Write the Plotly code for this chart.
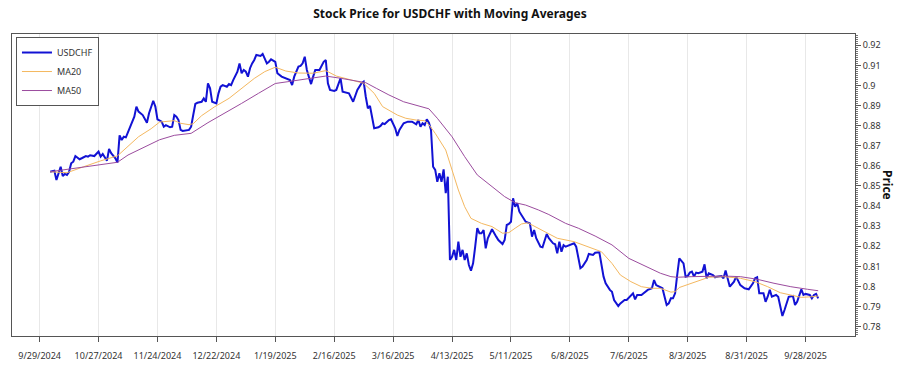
import pandas as pd
import plotly.graph_objects as go

START = "2024-09-29"

# USDCHF close: days since START, price
usd_days = [5, 7, 8, 9, 10, 11, 12, 13, 14, 15, 16, 17, 19, 20, 22, 23, 24, 26, 27, 28, 29, 30, 32, 33, 34, 36, 37,
            38, 39, 40, 41, 42, 43, 45, 46, 47, 49, 50, 51, 52, 54, 55, 56, 58, 59, 60, 62, 63, 64, 65, 66, 67, 68,
            71, 72, 73, 74, 75, 77, 78, 79, 80, 81, 82, 83, 84, 85, 86, 87, 89, 90, 91, 92, 93, 94, 95, 96, 97, 98,
            99, 100, 101, 102, 103, 105, 106, 107, 108, 109, 110, 112, 113, 115, 117, 119, 120, 121, 123, 124, 125,
            126, 127, 128, 129, 130, 131, 133, 134, 135, 136, 137, 138, 140, 141, 142, 143, 144, 146, 147, 149, 150,
            151, 153, 154, 155, 156, 157, 158, 159, 161, 162, 163, 164, 166, 167, 169, 170, 171, 173, 175, 177, 179,
            180, 181, 182, 183, 184, 185, 186, 187, 188, 189, 190, 191, 192, 193, 194, 195, 196, 197, 198, 199, 200,
            201, 202, 203, 204, 205, 206, 207, 208, 209, 210, 211, 212, 213, 214, 215, 217, 218, 220, 221, 222, 223,
            224, 225, 226, 227, 228, 229, 230, 231, 233, 234, 235, 236, 238, 239, 241, 242, 244, 245, 246, 247, 248,
            249, 250, 252, 254, 255, 257, 258, 260, 261, 263, 264, 266, 268, 269, 271, 272, 273, 275, 276, 278, 279,
            281, 282, 283, 284, 286, 287, 289, 291, 292, 293, 295, 296, 297, 298, 299, 300, 301, 302, 303, 304, 306,
            307, 308, 309, 310, 311, 312, 313, 315, 316, 317, 318, 320, 321, 322, 324, 325, 326, 328, 329, 330, 331,
            332, 333, 335, 337, 339, 340, 341, 342, 344, 345, 346, 347, 348, 350, 351, 353, 354, 355, 356, 358, 359,
            360, 362, 363, 364, 366, 367, 368, 369, 370]
usd_vals = [0.8571, 0.8576, 0.8530, 0.8560, 0.8596, 0.8550, 0.8560, 0.8555, 0.8571, 0.8613, 0.8621, 0.8649, 0.8633,
            0.8638, 0.8649, 0.8646, 0.8653, 0.8649, 0.8663, 0.8671, 0.8646, 0.8659, 0.8626, 0.8684, 0.8663, 0.8638,
            0.8616, 0.8752, 0.8729, 0.8745, 0.8742, 0.8770, 0.8799, 0.8845, 0.8895, 0.8870, 0.8853, 0.8837, 0.8815,
            0.8862, 0.8924, 0.8895, 0.8832, 0.8820, 0.8795, 0.8803, 0.8792, 0.8795, 0.8853, 0.8845, 0.8828, 0.8779,
            0.8774, 0.8779, 0.8795, 0.8853, 0.8908, 0.8914, 0.8919, 0.8936, 0.8919, 0.9011, 0.8986, 0.8919, 0.8914,
            0.8911, 0.8961, 0.8994, 0.9002, 0.8994, 0.9007, 0.9002, 0.9027, 0.9047, 0.9069, 0.9110, 0.9061, 0.9077,
            0.9069, 0.9044, 0.9086, 0.9110, 0.9127, 0.9152, 0.9147, 0.9157, 0.9135, 0.9110, 0.9118, 0.9130, 0.9118,
            0.9061, 0.9044, 0.9036, 0.9027, 0.9002, 0.9044, 0.9094, 0.9097, 0.9110, 0.9143, 0.9077, 0.9044, 0.9007,
            0.9044, 0.9077, 0.9077, 0.9094, 0.9118, 0.9127, 0.9011, 0.8978, 0.8973, 0.8978, 0.9011, 0.9036, 0.8969,
            0.8964, 0.8961, 0.8919, 0.8944, 0.8978, 0.9011, 0.9019, 0.8944, 0.8887, 0.8898, 0.8837, 0.8787, 0.8792,
            0.8799, 0.8812, 0.8808, 0.8828, 0.8832, 0.8787, 0.8749, 0.8779, 0.8812, 0.8820, 0.8820, 0.8807, 0.8828,
            0.8795, 0.8812, 0.8803, 0.8832, 0.8815, 0.8779, 0.8596, 0.8580, 0.8521, 0.8563, 0.8521, 0.8583, 0.8464,
            0.8546, 0.8132, 0.8148, 0.8182, 0.8132, 0.8223, 0.8148, 0.8182, 0.8132, 0.8165, 0.8107, 0.8079, 0.8115,
            0.8198, 0.8290, 0.8265, 0.8265, 0.8281, 0.8190, 0.8240, 0.8265, 0.8285, 0.8248, 0.8231, 0.8211, 0.8231,
            0.8306, 0.8311, 0.8322, 0.8439, 0.8397, 0.8414, 0.8372, 0.8356, 0.8344, 0.8322, 0.8314, 0.8248, 0.8281,
            0.8240, 0.8198, 0.8195, 0.8261, 0.8240, 0.8215, 0.8210, 0.8165, 0.8223, 0.8173, 0.8206, 0.8198, 0.8206,
            0.8215, 0.8198, 0.8091, 0.8099, 0.8132, 0.8162, 0.8157, 0.8168, 0.8170, 0.8049, 0.8016, 0.7983, 0.7974,
            0.7933, 0.7903, 0.7916, 0.7933, 0.7933, 0.7958, 0.7966, 0.7936, 0.7958, 0.7958, 0.7966, 0.7983, 0.7991,
            0.8032, 0.8007, 0.7999, 0.7991, 0.7949, 0.7908, 0.7916, 0.7941, 0.7941, 0.7966, 0.8057, 0.8140, 0.8115,
            0.8049, 0.8052, 0.8069, 0.8074, 0.8049, 0.8069, 0.8066, 0.8074, 0.8110, 0.8041, 0.8066, 0.8057, 0.8046,
            0.8049, 0.8052, 0.8041, 0.8079, 0.7999, 0.8012, 0.8024, 0.8049, 0.8024, 0.8007, 0.7991, 0.7986, 0.8016,
            0.8041, 0.8046, 0.7966, 0.7966, 0.7924, 0.7949, 0.7983, 0.7949, 0.7958, 0.7949, 0.7853, 0.7883, 0.7916,
            0.7949, 0.7953, 0.7908, 0.7924, 0.7986, 0.7958, 0.7963, 0.7958, 0.7941, 0.7958, 0.7963, 0.7941]

# 20-day moving average
ma20_days = [5, 13, 21, 29, 37, 41, 47, 53, 57, 64, 67, 71, 73, 77, 83, 90, 96, 102, 107, 112, 117, 123, 130, 136,
             141, 148, 154, 159, 163, 170, 174, 179, 183, 185, 188, 193, 196, 199, 202, 205, 210, 215, 220, 223, 226,
             229, 232, 237, 241, 246, 254, 261, 267, 272, 276, 281, 286, 291, 295, 300, 302, 304, 310, 318, 325, 333,
             340, 346, 352, 359, 362, 367, 370]
ma20_vals = [0.8571, 0.8566, 0.8596, 0.8625, 0.8650, 0.8690, 0.8745, 0.8785, 0.8818, 0.8825, 0.8812, 0.8805, 0.8810,
             0.8850, 0.8893, 0.8936, 0.8985, 0.9035, 0.9069, 0.9091, 0.9072, 0.9062, 0.9061, 0.9074, 0.9047, 0.9027,
             0.9011, 0.8961, 0.8895, 0.8853, 0.8837, 0.8828, 0.8825, 0.8805, 0.8762, 0.8679, 0.8580, 0.8480, 0.8397,
             0.8339, 0.8314, 0.8298, 0.8265, 0.8268, 0.8290, 0.8311, 0.8317, 0.8290, 0.8265, 0.8240, 0.8223, 0.8198,
             0.8173, 0.8115, 0.8057, 0.8024, 0.7999, 0.7991, 0.7991, 0.7972, 0.7974, 0.7995, 0.8016, 0.8046, 0.8049,
             0.8041, 0.8024, 0.7999, 0.7969, 0.7953, 0.7946, 0.7949, 0.7953]

# 50-day moving average
ma50_days = [5, 21, 37, 42, 48, 57, 64, 72, 80, 88, 96, 104, 112, 118, 126, 136, 143, 149, 155, 160, 166, 173, 179,
             185, 189, 196, 202, 208, 215, 221, 226, 231, 237, 242, 250, 256, 264, 272, 280, 288, 295, 300, 303, 310,
             325, 333, 341, 349, 357, 365, 370]
ma50_vals = [0.8571, 0.8596, 0.8618, 0.8654, 0.8685, 0.8730, 0.8752, 0.8762, 0.8815, 0.8862, 0.8911, 0.8961, 0.9010,
             0.9019, 0.9031, 0.9047, 0.9036, 0.9024, 0.9014, 0.8986, 0.8953, 0.8919, 0.8903, 0.8884, 0.8837, 0.8745,
             0.8646, 0.8555, 0.8497, 0.8447, 0.8417, 0.8405, 0.8381, 0.8358, 0.8314, 0.8290, 0.8251, 0.8207, 0.8140,
             0.8099, 0.8066, 0.8049, 0.8046, 0.8049, 0.8052, 0.8049, 0.8036, 0.8016, 0.7999, 0.7986, 0.7979]

tick_dates = ["2024-09-29", "2024-10-27", "2024-11-24", "2024-12-22", "2025-01-19", "2025-02-16", "2025-03-16",
              "2025-04-13", "2025-05-11", "2025-06-08", "2025-07-06", "2025-08-03", "2025-08-31", "2025-09-28"]
tick_labels = ["9/29/2024", "10/27/2024", "11/24/2024", "12/22/2024", "1/19/2025", "2/16/2025", "3/16/2025",
               "4/13/2025", "5/11/2025", "6/8/2025", "7/6/2025", "8/3/2025", "8/31/2025", "9/28/2025"]


def to_dates(days):
    return pd.Timestamp(START) + pd.to_timedelta(days, unit="D")


FONT = "Noto Sans"

fig = go.Figure()
fig.add_trace(go.Scatter(x=to_dates(usd_days), y=usd_vals, mode="lines", name="USDCHF",
                         line=dict(color="#1212D4", width=2)))
fig.add_trace(go.Scatter(x=to_dates(ma20_days), y=ma20_vals, mode="lines", name="MA20",
                         line=dict(color="#F4B860", width=1)))
fig.add_trace(go.Scatter(x=to_dates(ma50_days), y=ma50_vals, mode="lines", name="MA50",
                         line=dict(color="#9B4C9E", width=1)))

fig.update_layout(
    width=900, height=375,
    margin=dict(l=12, r=45, t=34, b=39, autoexpand=False),
    paper_bgcolor="white", plot_bgcolor="white",
    font=dict(family=FONT, size=10, color="#333"),
    title=dict(text="<b>Stock Price for USDCHF with Moving Averages</b>", x=0.5, xanchor="center",
               xref="container", yref="container", y=0.963, yanchor="middle",
               font=dict(family=FONT, size=12, color="#111")),
    showlegend=True,
    legend=dict(x=0.0047, y=0.99, xanchor="left", yanchor="top", bgcolor="white",
                bordercolor="#555", borderwidth=1, font=dict(family=FONT, size=9, color="#333"),
                tracegroupgap=0, itemwidth=30),
    xaxis=dict(type="date", range=["2024-09-15 21:00", "2025-10-21 12:00"], automargin=False,
               tickvals=tick_dates, ticktext=tick_labels, tickfont=dict(size=9, color="#333"),
               showgrid=True, gridcolor="#e8e8e8", gridwidth=1,
               showline=True, linecolor="#555", linewidth=1, mirror=True,
               ticks="outside", ticklen=5, tickcolor="#555", ticklabelstandoff=6, zeroline=False),
    yaxis=dict(side="right", range=[0.77537, 0.92562], dtick=0.01, tick0=0.78, automargin=False,
               showgrid=False, showline=True, linecolor="#555", linewidth=1, mirror=True,
               ticks="outside", ticklen=5, tickcolor="#555", tickfont=dict(size=9, color="#333"),
               minor=dict(dtick=0.001, ticks="outside", ticklen=2, tickcolor="#777"), zeroline=False),
)

# legend drop shadow
fig.add_shape(type="rect", xref="paper", yref="paper", layer="above",
              x0=0.0071, x1=0.0854, y0=0.762, y1=0.980,
              line=dict(width=0), fillcolor="rgba(0,0,0,0.3)")

fig.add_annotation(text="<b>Price</b>", textangle=90, xref="paper", yref="paper", x=1.0, y=0.5,
                   xanchor="center", xshift=33, showarrow=False, font=dict(family=FONT, size=12, color="#111"))

fig.write_html("out.html", config={"displayModeBar": False},
               post_script="document.body.style.margin='0';")
